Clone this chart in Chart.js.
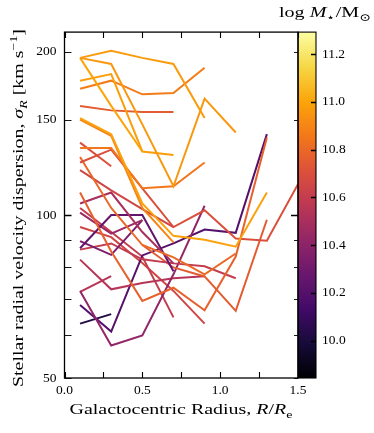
<!DOCTYPE html>
<html><head><meta charset="utf-8">
<script src="https://cdn.jsdelivr.net/npm/chart.js@4.4.1/dist/chart.umd.min.js"></script>
<style>html,body{margin:0;padding:0;background:#fff}canvas{display:block}</style>
</head><body>
<div style="width:374px;height:433px"><canvas id="c" width="374" height="433"></canvas></div>
<script>
// ---------------- data ----------------
const radii = [0.1, 0.3, 0.5, 0.7, 0.9, 1.1, 1.3, 1.5];           // R / Re bin centres
const logMass = [10.97, 10.96, 11.0, 10.98, 10.87, 10.75, 10.99, 10.9, 10.85, 10.7,
                 10.7, 10.8, 10.77, 10.65, 10.5, 10.25, 10.45, 10.35, 10.6, 10.75,
                 10.42, 10.55, 10.55, 10.2, 10.02, 10.6, 10.65];
const sigma01 = [195, 201, 195, 190, 151];
const sigma02 = [195, 190, 147, 113, 164, 142];
const sigma03 = [195, 159, 131];
const sigma04 = [177, 182, 131, 129];
const sigma05 = [171, 177, 167, 168, 187];
const sigma06 = [159, 156, 155, 155];
const sigma07 = [151, 141, 105, 91.5, 90, 87.4, 110];
const sigma08 = [150, 140, 103, 89];
const sigma09 = [133, 133, 112, 113, 125];
const sigma10 = [136, 123];
const sigma11 = [125, 132, 112, 95, 102, 90.5, 89.6, 114];
const sigma12 = [128, 103, 88, 83.5, 77.7, 84.9];
const sigma13 = [110, 85.6, 69.4, 73.4, 66.7, 83.8, 139];
const sigma14 = [121, 111, 102.5, 95];
const sigma15 = [105, 110, 93, 81.4];
const sigma16 = [86.8, 100, 100, 78.7];
const sigma17 = [101, 92.4, 97.8];
const sigma18 = [89.5, 84.4, 97.8];
const sigma19 = [86.3, 88.6, 82.8, 81.4, 80.4, 76.4];
const sigma20 = [null, null, 88, 80, 77, 66.5, 98];
const sigma21 = [72.4, 57.4, 59.9, 77.7, 104];
const sigma22 = [72.1, 77.1];
const sigma23 = [82.7, 72.9, 74.9, 76.4, 77.1];
const sigma24 = [68.2, 60.9, 84.2, 88.6, 94, 92.7, 141];
const sigma25 = [63, 65.6];
const sigma26 = [103, 93, 83.8, 64.7];
const sigma27 = [95, 91, 81.5, 72.4, 63];
const sigmaProfiles = [sigma01, sigma02, sigma03, sigma04, sigma05, sigma06, sigma07, sigma08, sigma09,
  sigma10, sigma11, sigma12, sigma13, sigma14, sigma15, sigma16, sigma17, sigma18, sigma19, sigma20,
  sigma21, sigma22, sigma23, sigma24, sigma25, sigma26, sigma27];

const xTicks = [0, 0.25, 0.5, 0.75, 1.0, 1.25, 1.5];
const xTickLabels = [0, 0.5, 1.0, 1.5];
const yTicks = [50, 60, 70, 80, 90, 100, 150, 200];
const yTickLabels = [50, 100, 150, 200];
const cbTicks = [10.0, 10.2, 10.4, 10.6, 10.8, 11.0, 11.2];
const massMin = 9.843, massMax = 11.292;
const yMin = 50, yMax = 217.6;

// ---------------- colour map (inferno) ----------------
const inferno = ['#000004','#160b39','#420a68','#6a176e','#932667','#bc3754','#dd513a','#f37819','#fca50a','#f6d746','#fcffa4'];
function hex2rgb(h){return [parseInt(h.slice(1,3),16),parseInt(h.slice(3,5),16),parseInt(h.slice(5,7),16)];}
function infernoAt(t){
  t = Math.max(0, Math.min(1, t));
  const f = t * 10, i = Math.min(9, Math.floor(f)), u = f - i;
  const a = hex2rgb(inferno[i]), b = hex2rgb(inferno[i+1]);
  return 'rgb(' + a.map((v,k)=>Math.round(v + (b[k]-v)*u)).join(',') + ')';
}
const massColor = m => infernoAt((m - massMin) / (massMax - massMin));

const FONT = '"Liberation Serif", "DejaVu Serif", serif';

const datasets = sigmaProfiles.map((prof, k) => ({
  data: prof.map((v, i) => ({x: radii[i], y: v})).filter(p => p.y !== null),
  borderColor: massColor(logMass[k]),
  borderWidth: 2,
  pointRadius: 0,
  fill: false,
  tension: 0,
  xAxisID: 'x',
  yAxisID: 'y'
}));

// ---------------- rich text helper ----------------
function segFont(s, size){ const sz = (s.sub || s.sup) ? size*0.7 : size; return (s.it ? 'italic ' : '') + sz.toFixed(2) + 'px ' + FONT; }
function drawRich(ctx, segs, size, cx, cy, rot, targetW){
  let w = 0;
  for (const s of segs){ ctx.font = segFont(s, size); w += ctx.measureText(s.t).width; }
  const sx = targetW ? targetW / w : 1;
  ctx.save();
  ctx.translate(cx, cy); ctx.rotate(rot); ctx.scale(sx, 1);
  ctx.fillStyle = '#000'; ctx.textBaseline = 'alphabetic'; ctx.textAlign = 'left';
  let x = -w/2; const base = size*0.35;
  for (const s of segs){
    ctx.font = segFont(s, size);
    const dy = s.sub ? size*0.22 : (s.sup ? -size*0.4 : 0);
    ctx.fillText(s.t, x, base + dy);
    x += ctx.measureText(s.t).width;
  }
  ctx.restore();
}

const yTitle = [{t:'Stellar radial velocity dispersion, '},{t:'σ',it:true},{t:'R',it:true,sub:true},{t:' [km s'},{t:'−1',sup:true},{t:']'}];
const xTitle = [{t:'Galactocentric Radius, '},{t:'R',it:true},{t:'/'},{t:'R',it:true},{t:'e',sub:true}];
const cbTitle = [{t:'log '},{t:'M',it:true},{t:'⋆',sub:true},{t:'/M'},{t:'⊙',sub:true}];

const decorPlugin = {
  id: 'decor',
  beforeDatasetsDraw(chart){
    const ctx = chart.ctx, cb = chart.scales.cb, ca = chart.chartArea;
    const top = cb.getPixelForValue(massMax), bot = cb.getPixelForValue(massMin);
    const g = ctx.createLinearGradient(0, bot, 0, top);
    inferno.forEach((c, i) => g.addColorStop(i/10, c));
    ctx.save();
    ctx.fillStyle = g;
    ctx.fillRect(ca.right, top, 18, bot - top);
    ctx.restore();
  },
  afterDraw(chart){
    const ctx = chart.ctx, ca = chart.chartArea, xs = chart.scales.x, ys = chart.scales.y, cb = chart.scales.cb;
    ctx.save();
    ctx.strokeStyle = '#000';
    yTicks.forEach(v => {
      const p = Math.round(ys.getPixelForValue(v)) + 0.5;
      ctx.lineWidth = v === 100 ? 1.3 : 0.9;
      ctx.beginPath();
      ctx.moveTo(ca.left, p); ctx.lineTo(ca.left + 7, p);
      ctx.moveTo(ca.right, p); ctx.lineTo(ca.right - (v === 100 ? 7 : 4), p);
      ctx.stroke();
    });
    xTicks.forEach(v => {
      const p = Math.round(xs.getPixelForValue(v)) + 0.5;
      ctx.lineWidth = 1.1;
      ctx.beginPath();
      ctx.moveTo(p, ca.bottom); ctx.lineTo(p, ca.bottom - 6);
      ctx.moveTo(p, ca.top); ctx.lineTo(p, ca.top + 6);
      ctx.stroke();
    });
    ctx.lineWidth = 1.3;
    ctx.strokeRect(ca.left, ca.top, ca.right - ca.left, ca.bottom - ca.top);
    const top = cb.getPixelForValue(massMax), bot = cb.getPixelForValue(massMin);
    ctx.lineWidth = 1.1;
    ctx.strokeRect(ca.right, top, 18, bot - top);
    ctx.lineWidth = 1.5;
    cbTicks.forEach(m => {
      const p = Math.round(cb.getPixelForValue(m)) + 0.5;
      ctx.beginPath(); ctx.moveTo(ca.right + 18, p); ctx.lineTo(ca.right + 13, p); ctx.stroke();
    });
    ctx.restore();
    drawRich(ctx, yTitle, 15, 18, 208, -Math.PI/2, 358);
    drawRich(ctx, xTitle, 15, 181, 409, 0, 223);
    drawRich(ctx, cbTitle, 15, 325, 12, 0, 92);
  }
};

new Chart(document.getElementById('c'), {
  type: 'line',
  data: { datasets },
  plugins: [decorPlugin],
  options: {
    responsive: false, animation: false, devicePixelRatio: 1,
    layout: { padding: { left: 0, right: 0, top: 27, bottom: 0 } },
    plugins: { legend: { display: false }, tooltip: { enabled: false } },
    scales: {
      x: {
        type: 'linear', position: 'bottom', min: 0, max: 1.5,
        grid: { display: false, drawTicks: false }, border: { display: false },
        afterBuildTicks: s => { s.ticks = xTicks.map(v => ({ value: v })); },
        afterFit: s => { s.height = 55; },
        ticks: { autoSkip: false, maxRotation: 0, padding: 4, color: '#000',
                 font: { family: FONT, size: 13.5 },
                 callback: v => xTickLabels.some(t => Math.abs(t - v) < 1e-6) ? v.toFixed(1) : '' }
      },
      y: {
        type: 'logarithmic', position: 'left', min: yMin, max: yMax,
        grid: { display: false, drawTicks: false }, border: { display: false },
        afterBuildTicks: s => { s.ticks = yTicks.map(v => ({ value: v })); },
        afterFit: s => { s.width = 64.5; },
        ticks: { autoSkip: false, padding: 8, color: '#000',
                 font: { family: FONT, size: 13.5 },
                 callback: v => yTickLabels.includes(v) ? String(v) : '' }
      },
      cb: {
        type: 'linear', axis: 'y', position: 'right', min: massMin, max: massMax,
        grid: { display: false, drawTicks: false }, border: { display: false },
        afterBuildTicks: s => { s.ticks = cbTicks.map(v => ({ value: v })); },
        afterFit: s => { s.width = 76; },
        ticks: { autoSkip: false, padding: 24, color: '#000',
                 font: { family: FONT, size: 13.5 },
                 callback: v => v.toFixed(1) }
      }
    }
  }
});
</script>
</body></html>
